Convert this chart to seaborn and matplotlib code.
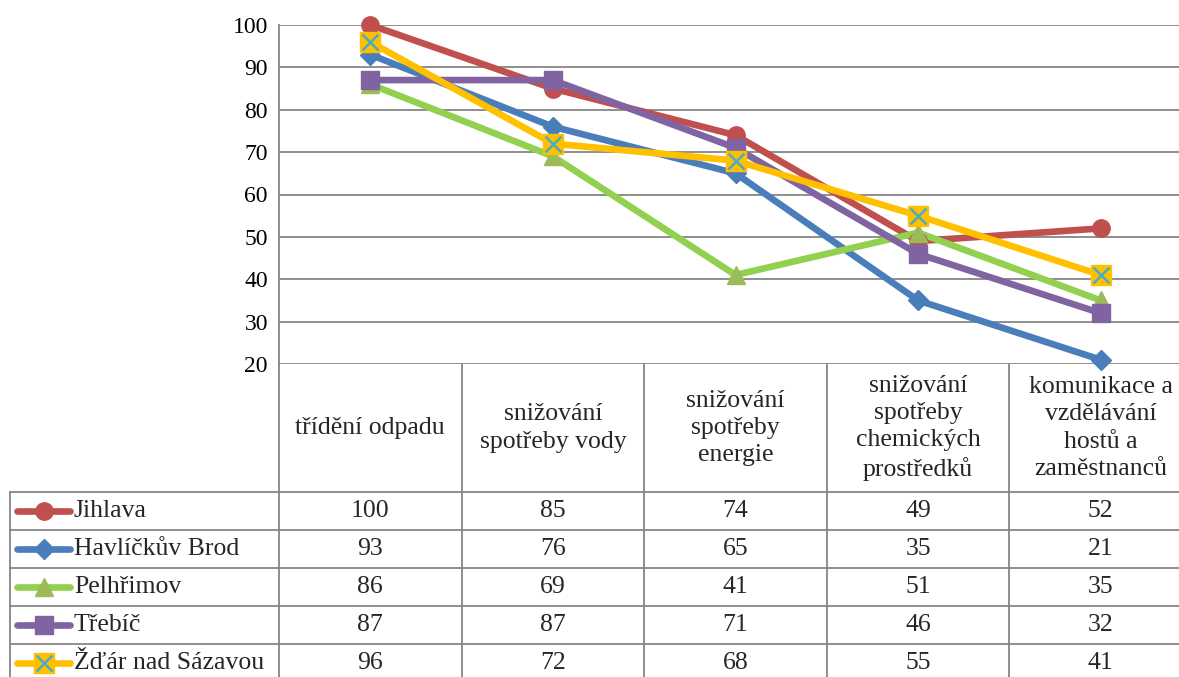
import numpy as np
import pandas as pd
import matplotlib
matplotlib.use("Agg")
import matplotlib.pyplot as plt
import matplotlib.transforms as mtrans
import seaborn as sns

# chart data
categories = ["třídění odpadu", "snižování\nspotřeby vody", "snižování\nspotřeby\nenergie",
              "snižování\nspotřeby\nchemických\nprostředků", "komunikace a\nvzdělávání\nhostů a\nzaměstnanců"]
series = ["Jihlava", "Havlíčkův Brod", "Pelhřimov", "Třebíč", "Žďár nad Sázavou"]
jihlava = [100, 85, 74, 49, 52]
havlickuv_brod = [93, 76, 65, 35, 21]
pelhrimov = [86, 69, 41, 51, 35]
trebic = [87, 87, 71, 46, 32]
zdar = [96, 72, 68, 55, 41]
values = [jihlava, havlickuv_brod, pelhrimov, trebic, zdar]

line_colors = ["#C0504D", "#4A7EBB", "#92D050", "#8064A2", "#FFC000"]
marker_face = ["#C0504D", "#4A7EBB", "#9BBB59", "#8064A2", "#FFC000"]
marker_edge = ["#C0504D", "#4A7EBB", "#9BBB59", "#8064A2", "#4BACC6"]
markers = ["o", "D", "^", "s", "X"]
msizes = [12.5, 10.5, 13, 13, 14]

sns.set_style("white")
plt.rcParams["font.family"] = ["Liberation Serif", "DejaVu Serif"]
FS = 18.5

fig = plt.figure(figsize=(11.79, 6.77), dpi=100)
W, H = 1179, 677
# main plot area (extends past right edge like the original crop)
ax = fig.add_axes([279 / W, 1 - 364 / H, 913 / W, 339 / H])
tab = fig.add_axes([0, 0, 1, 1], zorder=-1)
tab.set_xlim(0, W)
tab.set_ylim(H, 0)
tab.axis("off")

rows = []
for name, vals in zip(series, values):
    for i, v in enumerate(vals):
        rows.append({"city": name, "idx": i, "value": v})
df = pd.DataFrame(rows)


def draw_marker(target, xs, ys, k, z=None, **kw):
    zkw = {} if z is None else {"zorder": z}
    if markers[k] == "X":
        target.plot(xs, ys, marker="s", ls="none", ms=msizes[k], mfc="#FFC000",
                    mec="#FFC000", **zkw, **kw)
        target.plot(xs, ys, marker="x", ls="none", ms=msizes[k] - 2, mew=1.8,
                    mec="#4BACC6", **zkw, **kw)
    else:
        target.plot(xs, ys, marker=markers[k], ls="none", ms=msizes[k],
                    mfc=marker_face[k], mec=marker_edge[k], **zkw, **kw)


for k, name in enumerate(series):
    d = df[df["city"] == name]
    sns.lineplot(data=d, x="idx", y="value", ax=ax, color=line_colors[k], lw=4.8,
                 legend=False, zorder=3 + k)
    draw_marker(ax, d["idx"], d["value"], k, z=10 + k, clip_on=False)

ax.set_xlim(-0.5, 4.5)
ax.set_ylim(20, 100)
ax.set_yticks(range(20, 101, 10))
ax.set_xticks([])
ax.set_xlabel("")
ax.set_ylabel("")
ax.yaxis.grid(True, color="#868686", lw=1.3)
ax.set_axisbelow(True)
for s in ["top", "right", "bottom"]:
    ax.spines[s].set_visible(False)
ax.spines["left"].set_color("#868686")
ax.spines["left"].set_linewidth(1.3)
ax.tick_params(axis="y", labelsize=17, length=0, pad=8, colors="black")
ax.patch.set_alpha(0)

# data table below the plot
bt = mtrans.blended_transform_factory(ax.transData, tab.transData)
gc = "#868686"
top_y, head_bot, row_h = 364, 492, 38
for b in np.arange(-0.5, 5.0, 1.0):
    tab.plot([b, b], [top_y, H], color=gc, lw=1.3, transform=bt, clip_on=False)
tab.plot([10, 10], [head_bot, H], color=gc, lw=1.3)
for r in range(len(series)):
    y = head_bot + r * row_h
    tab.plot([10, W], [y, y], color=gc, lw=1.3)

for i, c in enumerate(categories):
    tab.text(i, 428, c, transform=bt, ha="center", va="center", fontsize=FS,
             linespacing=1.3)

for k, (name, vals) in enumerate(zip(series, values)):
    yc = head_bot + k * row_h + row_h / 2
    tab.plot([17, 70], [yc, yc], color=line_colors[k], lw=4.8, solid_capstyle="round")
    draw_marker(tab, [44], [yc], k)
    tab.text(74, yc, name, ha="left", va="center", fontsize=FS)
    for i, v in enumerate(vals):
        tab.text(i, yc, str(v), transform=bt, ha="center", va="center", fontsize=FS)

fig.savefig("out.png", dpi=100)
